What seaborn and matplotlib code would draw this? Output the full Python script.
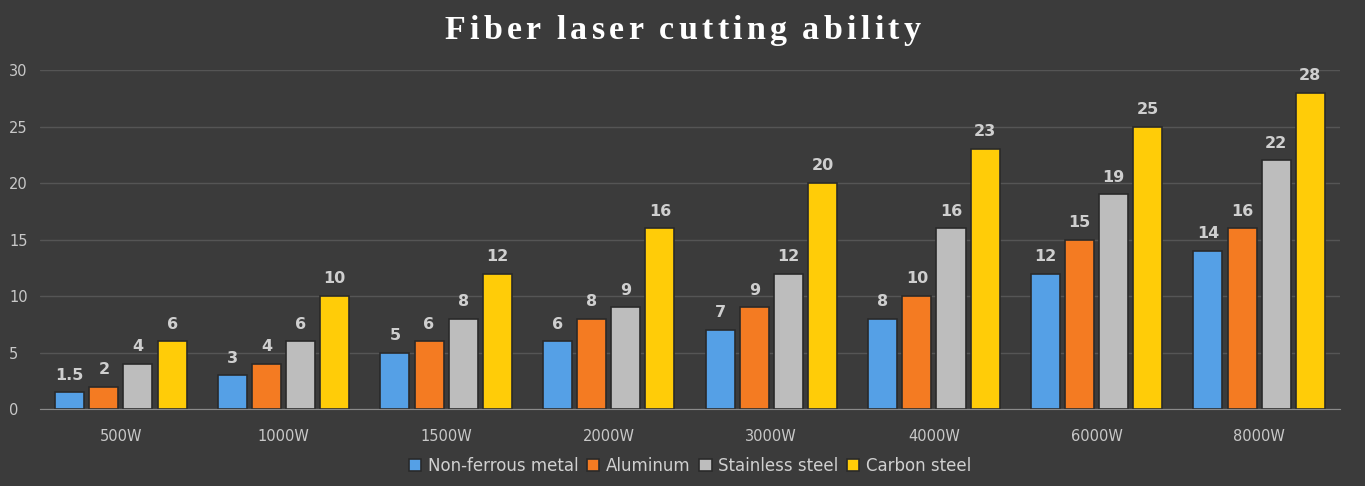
import pandas as pd
import seaborn as sns
import matplotlib.pyplot as plt

powers = ['500W', '1000W', '1500W', '2000W', '3000W', '4000W', '6000W', '8000W']
non_ferrous = [1.5, 3, 5, 6, 7, 8, 12, 14]
aluminum = [2, 4, 6, 8, 9, 10, 15, 16]
stainless = [4, 6, 8, 9, 12, 16, 19, 22]
carbon = [6, 10, 12, 16, 20, 23, 25, 28]
materials = ['Non-ferrous metal', 'Aluminum', 'Stainless steel', 'Carbon steel']
colors = ['#55a0e6', '#f47b22', '#bdbdbd', '#ffcc08']
title = 'Fiber laser cutting ability'

rows = []
for mat, vals in zip(materials, [non_ferrous, aluminum, stainless, carbon]):
    for p, v in zip(powers, vals):
        rows.append({'power': p, 'material': mat, 'value': v})
df = pd.DataFrame(rows)

sns.set_style('dark')
bg = '#3b3b3b'
fig = plt.figure(figsize=(13.65, 4.86), dpi=100, facecolor=bg)
ax = fig.add_axes([0.029, 0.158, 0.953, 0.698])
ax.set_facecolor(bg)

sns.barplot(data=df, x='power', y='value', hue='material', palette=colors,
            order=powers, hue_order=materials, width=0.84, gap=0.15,
            saturation=1, edgecolor='#2a2a2a', linewidth=1.2, ax=ax)

# value labels above each bar
for cont in ax.containers:
    labels = [('%g' % b.get_height()) for b in cont]
    ax.bar_label(cont, labels=labels, padding=7, color='#cfcfcf',
                 fontsize=11.5, fontweight='semibold')

ax.set_ylim(0, 30)
ax.set_yticks([0, 5, 10, 15, 20, 25, 30])
ax.yaxis.grid(True, color='#555555', linewidth=1)
ax.set_axisbelow(True)
ax.set_xlabel('')
ax.set_ylabel('')
ax.tick_params(colors='#c8c8c8', labelsize=10.5, length=0)
ax.tick_params(axis='x', pad=14)
ax.tick_params(axis='y', pad=22)
for lbl in ax.get_yticklabels():
    lbl.set_horizontalalignment('left')
for s in ['top', 'right', 'left']:
    ax.spines[s].set_visible(False)
ax.spines['bottom'].set_color('#8a8a8a')

leg = ax.legend(loc='center', bbox_to_anchor=(0.5, -0.168), ncol=4,
                frameon=False, fontsize=12, handlelength=0.75, handleheight=0.75,
                columnspacing=0.5, handletextpad=0.4)
for t in leg.get_texts():
    t.set_color('#d0d0d0')

# title with wide letter spacing, one character at a time
fig.canvas.draw()
rend = fig.canvas.get_renderer()
tprops = dict(fontsize=24.5, fontweight='bold', color='white', family='Liberation Serif')
track = 4.2  # extra px between characters
widths = []
for ch in title:
    t = fig.text(0, 0, ch if ch != ' ' else 'n', **tprops)
    w = t.get_window_extent(rend).width
    t.remove()
    widths.append(w * 0.4 if ch == ' ' else w)
total = sum(widths) + track * (len(title) - 1)
x = fig.bbox.width / 2 - total / 2
for ch, w in zip(title, widths):
    if ch != ' ':
        fig.text(x / fig.bbox.width, 0.937, ch, ha='left', va='center', **tprops)
    x += w + track

fig.savefig('out.png', dpi=100, facecolor=bg)
